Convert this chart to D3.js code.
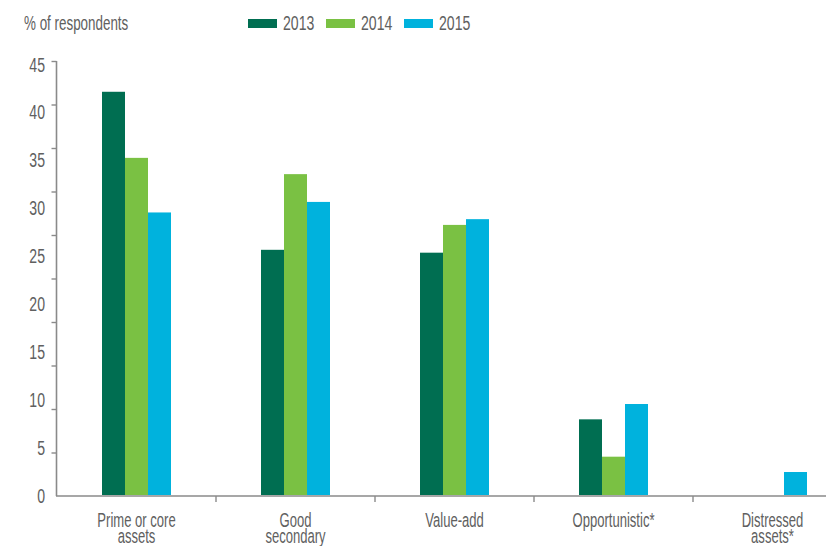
<!DOCTYPE html>
<html><head><meta charset="utf-8">
<script src="https://cdn.jsdelivr.net/npm/d3@7"></script>
<style>
html,body{margin:0;padding:0;background:#fff;}
svg{display:block;}
text{font-family:"Liberation Sans",Arial,sans-serif;fill:#606060;}
</style></head><body>
<svg id="chart" width="826" height="546"></svg>
<script>
const categories = [["Prime or core","assets"],["Good","secondary"],["Value-add"],["Opportunistic*"],["Distressed","assets*"]];
const years = ["2013","2014","2015"];
const values2013 = [42.1, 25.6, 25.3, 7.9, null];
const values2014 = [35.2, 33.5, 28.2, 4.0, null];
const values2015 = [29.5, 30.6, 28.8, 9.5, 2.4];
const yLabels = [0,5,10,15,20,25,30,35,40,45];
const yMarkTicks = [0,5,10,15,20,25,30,35,40,45,50];
const colors = ["#006e51","#7ac143","#00b2dd"];
const series = [values2013, values2014, values2015];

const SX = 0.67;
const svg = d3.select("#chart");
function label(parent, x, y, txt, size, anchor){
  return parent.append("text")
    .attr("transform", `translate(${x},${y}) scale(${SX},1)`)
    .attr("text-anchor", anchor || "start")
    .attr("font-size", size)
    .text(txt);
}

const catKeys = categories.map(c => c.join(" "));
const x0 = d3.scaleBand().domain(catKeys).range([57, 852]).paddingInner(0).paddingOuter(0);
const bw = x0.bandwidth();
const groupW = 69;
const x1 = d3.scaleBand().domain(years).range([bw/2 - groupW/2, bw/2 + groupW/2]);
const y = d3.scaleLinear().domain([0,45]).range([495, 64]);
// tick marks of the original axis are spaced on a 0-50 grid
const yMark = d3.scaleLinear().domain([0,50]).range([496, 61]);

// bars
years.forEach((yr, si) => {
  svg.append("g").selectAll("rect")
    .data(catKeys.map((c,i) => ({c, v: series[si][i]})).filter(d => d.v != null))
    .join("rect")
    .attr("x", d => x0(d.c) + x1(yr))
    .attr("width", x1.bandwidth())
    .attr("y", d => y(d.v))
    .attr("height", d => y(0) - y(d.v))
    .attr("fill", colors[si]);
});

// y axis line + tick marks
const yAxis = svg.append("g").attr("transform","translate(56.5,0)")
  .call(d3.axisLeft(yMark).tickValues(yMarkTicks).tickSize(5).tickFormat(""));
yAxis.select(".domain").attr("stroke","#8a8a8a").attr("stroke-width",1.6).attr("d","M0,61V496");
yAxis.selectAll(".tick line").attr("stroke","#8a8a8a").attr("stroke-width",1.4);
yAxis.selectAll(".tick").filter(d => d === 0).remove();

// y labels
const yl = svg.append("g");
yLabels.forEach(v => label(yl, 45, y(v) + 7.5, String(v), 21, "end"));

// x axis baseline + dividers
const xg = svg.append("g");
xg.append("line").attr("x1",56).attr("x2",826).attr("y1",496).attr("y2",496).attr("stroke","#8a8a8a").attr("stroke-width",1.6);
xg.selectAll("line.div").data(catKeys.slice(1)).join("line").attr("class","div")
  .attr("x1", d => x0(d)).attr("x2", d => x0(d))
  .attr("y1", 496).attr("y2", 502).attr("stroke","#8a8a8a").attr("stroke-width",1.4);

// category labels
categories.forEach((lines, i) => {
  const cx = x0(catKeys[i]) + bw/2;
  lines.forEach((ln, j) => label(xg, cx, 527 + j*16, ln, 19.5, "middle"));
});

// title
label(svg, 24, 30, "% of respondents", 20);

// legend
const legX = [248, 326, 404];
years.forEach((yr,i) => {
  svg.append("rect").attr("x",legX[i]).attr("y",19).attr("width",29).attr("height",9).attr("fill",colors[i]);
  label(svg, legX[i]+35, 30, yr, 21);
});
</script>
</body></html>
